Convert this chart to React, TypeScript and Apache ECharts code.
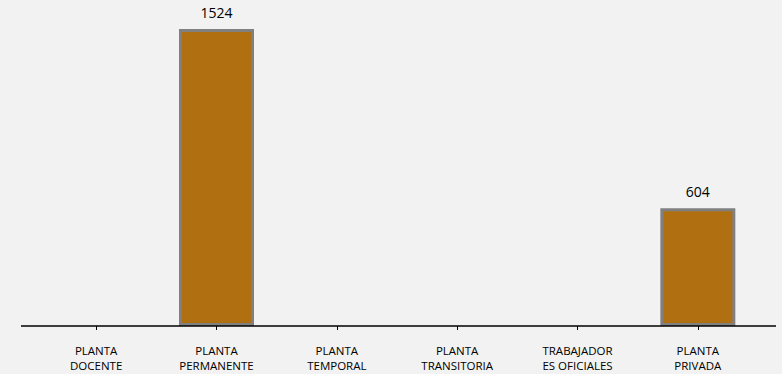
import React, { useEffect, useRef } from "react";
import * as echarts from "echarts";

const categories = [
  "PLANTA\nDOCENTE",
  "PLANTA\nPERMANENTE",
  "PLANTA\nTEMPORAL",
  "PLANTA\nTRANSITORIA",
  "TRABAJADOR\nES OFICIALES",
  "PLANTA\nPRIVADA",
];
const values: (number | null)[] = [null, 1524, null, null, null, 604];

export default function App() {
  const ref = useRef<HTMLDivElement>(null);
  useEffect(() => {
    document.body.style.margin = "0";
    const chart = echarts.init(ref.current!, null, { renderer: "svg" });
    chart.setOption({
      animation: false,
      backgroundColor: "#f2f2f2",
      textStyle: { fontFamily: "Open Sans" },
      grid: { left: 36, right: 24, top: 0, bottom: 48 },
      xAxis: {
        type: "category",
        data: categories,
        axisLine: { show: false },
        axisTick: { show: true, alignWithLabel: true, length: 4, lineStyle: { color: "#000", width: 1 } },
        axisLabel: { fontSize: 11.5, color: "#000", margin: 17, lineHeight: 15, interval: 0 },
      },
      yAxis: { type: "value", min: 0, max: 1673, show: false, splitLine: { show: false } },
      graphic: [
        {
          type: "line",
          shape: { x1: 21, y1: 326, x2: 776, y2: 326 },
          style: { stroke: "#000", lineWidth: 1.3 },
          z: 10,
        },
      ],
      series: [
        {
          type: "bar",
          data: values,
          barWidth: 75,
          itemStyle: { color: "#b06f10", borderColor: "#808080", borderWidth: 3 },
          label: { show: true, position: "top", distance: 10, fontSize: 14, color: "#000" },
        },
      ],
    });
    return () => chart.dispose();
  }, []);
  return <div ref={ref} style={{ width: 782, height: 374 }} />;
}
